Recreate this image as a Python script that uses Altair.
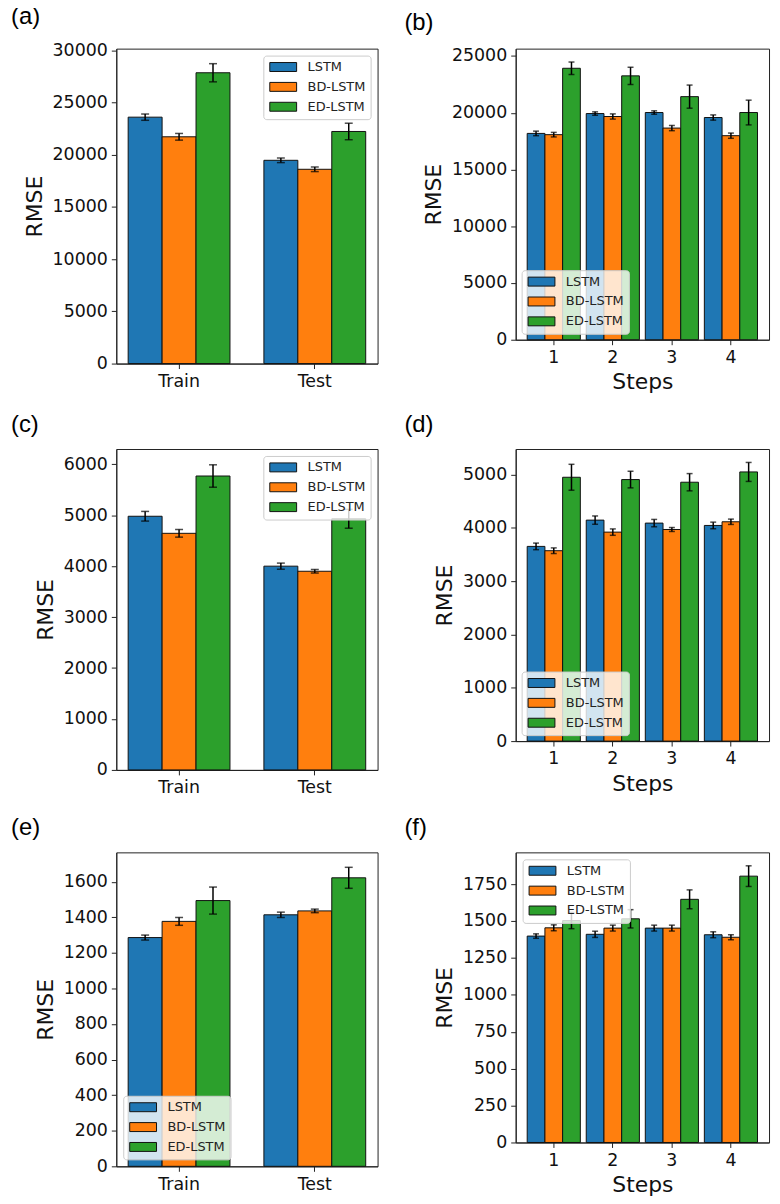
import altair as alt
import pandas as pd

models = ["LSTM", "BD-LSTM", "ED-LSTM"]
model_colors = ["#1f77b4", "#ff7f0e", "#2ca02c"]
splits = ["Train", "Test"]
steps = ["1", "2", "3", "4"]

# (a)
a_rmse = [[23590, 19460], [21710, 18600], [27840, 22220]]
a_err = [[300, 220], [320, 220], [870, 790]]
# (b)
b_rmse = [[18180, 19930, 20020, 19580], [18070, 19670, 18650, 17980], [23920, 23250, 21420, 20020]]
b_err = [[200, 150, 150, 230], [200, 230, 230, 230], [550, 760, 1020, 1090]]
# (c)
c_rmse = [[4980, 4000], [4645, 3900], [5770, 4930]]
c_err = [[95, 60], [75, 35], [220, 185]]
# (d)
d_rmse = [[3653, 4146, 4090, 4046], [3572, 3921, 3970, 4115], [4950, 4907, 4857, 5050]]
d_err = [[62, 78, 69, 62], [53, 60, 37, 50], [243, 156, 162, 178]]
# (e)
e_rmse = [[1286, 1414], [1377, 1436], [1494, 1622]]
e_err = [[14, 15], [22, 10], [76, 59]]
# (f)
f_rmse = [[1398, 1410, 1452, 1407], [1454, 1452, 1452, 1390], [1503, 1515, 1647, 1804]]
f_err = [[15, 21, 20, 20], [20, 20, 20, 17], [55, 62, 64, 70]]

a_ticks = [0, 5000, 10000, 15000, 20000, 25000, 30000]
b_ticks = [0, 5000, 10000, 15000, 20000, 25000]
c_ticks = [0, 1000, 2000, 3000, 4000, 5000, 6000]
d_ticks = [0, 1000, 2000, 3000, 4000, 5000]
e_ticks = [0, 200, 400, 600, 800, 1000, 1200, 1400, 1600]
f_ticks = [0, 250, 500, 750, 1000, 1250, 1500, 1750]

SWATCH = "M-2.7,-0.9L2.7,-0.9L2.7,0.9L-2.7,0.9Z"

LEFT_W, RIGHT_W = 263, 255
LEFT_DX, RIGHT_DX = -106, -112
TITLE_OFFSET = 12


def panel(letter, cats, rmse, err, ymax, yticks, legend_orient, legend_offset,
          xtitle, width, height, title_dx, pad_inner, pad_outer, cap):
    rows = []
    for mi, m in enumerate(models):
        for ci, c in enumerate(cats):
            rows.append({"cat": c, "model": m, "rmse": rmse[mi][ci], "err": err[mi][ci]})
    df = pd.DataFrame(rows)
    base = alt.Chart(df).transform_calculate(
        lo="datum.rmse - datum.err", hi="datum.rmse + datum.err"
    )
    xkw = dict(sort=cats,
               scale=alt.Scale(paddingInner=pad_inner, paddingOuter=pad_outer),
               axis=alt.Axis(labelAngle=0))
    xkw["title"] = xtitle if xtitle else None
    x = alt.X("cat:N", **xkw)
    xo = alt.XOffset("model:N", sort=models, scale=alt.Scale(paddingInner=0, paddingOuter=0))
    yscale = alt.Scale(domain=[0, ymax], nice=False, zero=True)
    bars = base.mark_bar(stroke="#111111", strokeWidth=1).encode(
        x=x,
        xOffset=xo,
        y=alt.Y("rmse:Q", scale=yscale, title="RMSE",
                axis=alt.Axis(values=yticks, tickCount=len(yticks) + 2,
                              format="d", labelOverlap=False)),
        color=alt.Color(
            "model:N", sort=models, title=None,
            scale=alt.Scale(domain=models, range=model_colors),
            legend=alt.Legend(
                orient=legend_orient, offset=legend_offset,
                fillColor="rgba(255,255,255,0.8)", strokeColor="#cccccc",
                cornerRadius=3, padding=5,
                symbolType=SWATCH, symbolSize=100, symbolOffset=8.5,
                symbolStrokeColor="#111111", symbolStrokeWidth=1, symbolOpacity=1,
                labelFont="DejaVu Sans", labelFontSize=13, labelColor="#222222",
                labelOffset=18, rowPadding=6,
            ),
        ),
    )
    rule = base.mark_rule(color="black", strokeWidth=1.5).encode(
        x=x, xOffset=xo, y=alt.Y("lo:Q", scale=yscale), y2="hi:Q"
    )
    cap_lo = base.mark_tick(color="black", size=cap, thickness=1.5).encode(
        x=x, xOffset=xo, y=alt.Y("lo:Q", scale=yscale)
    )
    cap_hi = base.mark_tick(color="black", size=cap, thickness=1.5).encode(
        x=x, xOffset=xo, y=alt.Y("hi:Q", scale=yscale)
    )
    return alt.layer(bars, rule, cap_lo, cap_hi).properties(
        width=width, height=height,
        title=alt.TitleParams(
            text=letter, anchor="start", frame="group", dx=title_dx,
            offset=TITLE_OFFSET, font="Liberation Sans", fontSize=24,
            fontWeight="normal", color="black",
        ),
    )


pa = panel("(a)", splits, a_rmse, a_err, 30150, a_ticks, "top-right", 7, None,
           LEFT_W, 317, LEFT_DX, 0.25, 0.0875, 8)
pb = panel("(b)", steps, b_rmse, b_err, 25650, b_ticks, "bottom-left", 6, "Steps",
           RIGHT_W, 293, RIGHT_DX, 0.1, 0.195, 6)
pc = panel("(c)", splits, c_rmse, c_err, 6300, c_ticks, "top-right", 7, None,
           LEFT_W, 323, LEFT_DX, 0.25, 0.0875, 8)
pd_ = panel("(d)", steps, d_rmse, d_err, 5480, d_ticks, "bottom-left", 6, "Steps",
            RIGHT_W, 294, RIGHT_DX, 0.1, 0.195, 6)
pe = panel("(e)", splits, e_rmse, e_err, 1765, e_ticks, "bottom-left", 7, None,
           LEFT_W, 316, LEFT_DX, 0.25, 0.0875, 8)
pf = panel("(f)", steps, f_rmse, f_err, 1965, f_ticks, "top-left", 7, "Steps",
           RIGHT_W, 292, RIGHT_DX, 0.1, 0.195, 6)


chart = alt.concat(
    pa, pb, pc, pd_, pe, pf, columns=2,
    spacing={"row": 19, "column": 25},
).resolve_scale(
    x="independent", y="independent", color="independent", xOffset="independent"
).resolve_legend(color="independent").properties(
    padding={"left": 2, "top": -7, "right": 2, "bottom": 0}
).configure_view(
    stroke="#222222", strokeWidth=1
).configure_axis(
    grid=False, domainColor="#222222", tickColor="#222222", tickSize=5,
    labelFont="DejaVu Sans", labelFontSize=17.5, labelColor="#111111", labelPadding=4,
    labelOverlap=False,
    titleFont="DejaVu Sans", titleFontSize=22, titleFontWeight="normal",
    titleColor="#111111", titlePadding=6,
)

chart.save("out.html", embed_options={"renderer": "svg", "actions": False})
